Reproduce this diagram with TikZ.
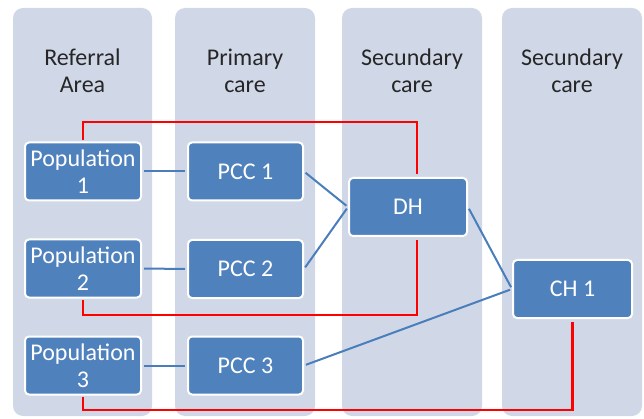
\documentclass[tikz,border=0pt]{standalone}
\usepackage{fontspec}
\setmainfont{Carlito}
\definecolor{lane}{HTML}{D0D8E8}
\definecolor{boxblue}{HTML}{4F81BD}
\definecolor{linkblue}{HTML}{4A7EBB}
\definecolor{headtext}{HTML}{262626}
\begin{document}
\begin{tikzpicture}[x=1pt,y=-1pt,
  lanebox/.style={fill=lane, rounded corners=10pt},
  header/.style={align=center, text=headtext, font=\fontsize{24}{27.5}\selectfont},
  unit/.style={draw=white, line width=2pt, fill=boxblue, rounded corners=4pt,
    text=white, align=center, font=\fontsize{24}{27}\selectfont,
    minimum width=116pt, minimum height=58pt, inner sep=0pt},
  link/.style={draw=linkblue, line width=2pt, shorten <=2pt, shorten >=2pt},
  referral/.style={draw=red, line width=2.6pt, shorten <=1pt, shorten >=3pt}]
  \useasboundingbox (0,0) rectangle (644,419);

  % four lanes
  \fill[lanebox] (13,8) rectangle (152,416);
  \fill[lanebox] (175,8) rectangle (315,416);
  \fill[lanebox] (342,8) rectangle (482,416);
  \fill[lanebox] (502,8) rectangle (642,416);

  % lane headings
  \node[header] (h1) at (82.5,71) {Referral\\Area};
  \node[header] (h2) at (245,71) {Primary\\care};
  \node[header] (h3) at (412,71) {Secundary\\care};
  \node[header] (h4) at (572,71) {Secundary\\care};

  % care units
  \node[unit] (pop1) at (83,171.5) {Population\\1};
  \node[unit] (pop2) at (83,268.5) {Population\\2};
  \node[unit] (pop3) at (83,365.5) {Population\\3};
  \node[unit, minimum width=115pt] (pcc1) at (245.5,171.5) {PCC 1};
  \node[unit, minimum width=115pt] (pcc2) at (245.5,269) {PCC 2};
  \node[unit, minimum width=115pt] (pcc3) at (245.5,365.5) {PCC 3};
  \node[unit, minimum width=118pt] (dh) at (408,207) {DH};
  \node[unit, minimum width=119pt] (ch1) at (572.5,289) {CH 1};

  % referral links
  \path[link] (pop1.east) -- (pcc1.west);
  \path[link] (pop2.east) -- (pcc2.west);
  \path[link] (pop3.east) -- (pcc3.west);
  \path[link] (pcc1.east) -- (dh.west);
  \path[link] (pcc2.east) -- (dh.west);
  \path[link] (dh.east) -- (ch1.west);
  \path[link] (pcc3.east) -- (ch1.west);

  % direct routes to hospitals
  \coordinate (r1) at (417,122);
  \coordinate (r2) at (417,315);
  \coordinate (r3) at (572.5,410);
  \path[referral] (pop1.north) |- (r1) -- (r1 |- dh.north);
  \path[referral] (pop2.south) |- (r2) -- (r2 |- dh.south);
  \path[referral] (pop3.south) |- (r3) -- (ch1.south);
\end{tikzpicture}
\end{document}
